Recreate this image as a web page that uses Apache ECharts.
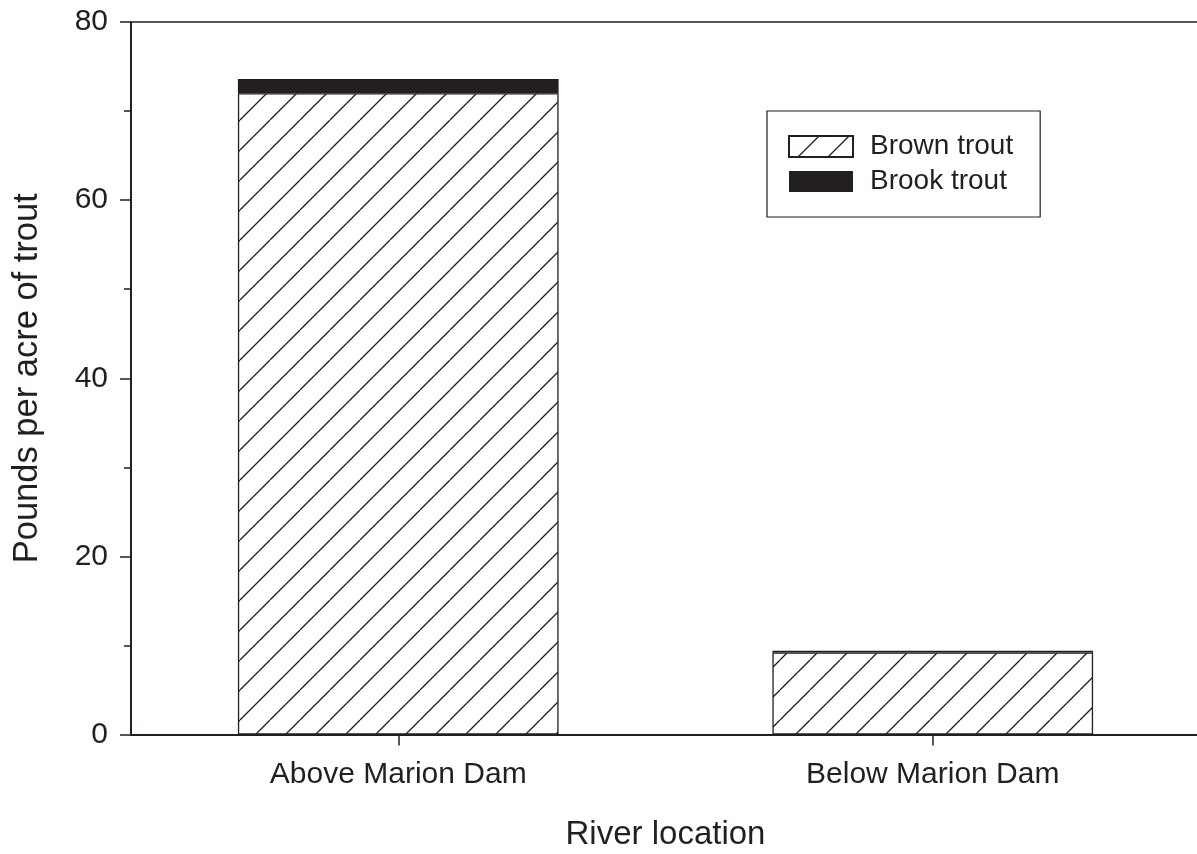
<!DOCTYPE html>
<html>
<head>
<meta charset="utf-8">
<style>
  html, body { margin: 0; padding: 0; background: #fff; }
  #chart { width: 1197px; height: 854px; }
</style>
<script src="https://cdn.jsdelivr.net/npm/echarts@6/dist/echarts.min.js"></script>
</head>
<body>
<div id="chart"></div>
<script>
// Trout biomass by river location (pounds per acre)
const locations = ['Above Marion Dam', 'Below Marion Dam'];
const brownTrout = [72.0, 9.2];
const brookTrout = [1.6, 0.2];
const yTicks = [0, 20, 40, 60, 80];

const INK = '#231f20';
const FONT = '"Liberation Sans", Arial, Helvetica, sans-serif';

// Diagonal "/" hatch fill used for the brown trout bars
function makeHatch() {
  const s = 30;
  const c = document.createElement('canvas');
  c.width = s; c.height = s;
  const g = c.getContext('2d');
  g.fillStyle = '#fff';
  g.fillRect(0, 0, s, s);
  g.strokeStyle = INK;
  g.lineWidth = 1.3;
  for (const k of [-s, 0, s]) {
    g.beginPath();
    g.moveTo(k, s);
    g.lineTo(k + s, 0);
    g.stroke();
  }
  return c;
}
const hatch = { image: makeHatch(), repeat: 'repeat' };

const chart = echarts.init(document.getElementById('chart'), null, { renderer: 'canvas' });

chart.setOption({
  animation: false,
  backgroundColor: '#fff',
  textStyle: { fontFamily: FONT, color: INK },
  grid: {
    left: 131, right: -3, top: 22, bottom: 119.5,
    containLabel: false, outerBoundsMode: 'none'
  },
  legend: {
    orient: 'vertical',
    left: 767, top: 111,
    padding: [21.5, 27, 21.5, 21],
    itemWidth: 64, itemHeight: 21, itemGap: 7,
    borderColor: INK, borderWidth: 1.2,
    icon: 'rect',
    textStyle: { fontFamily: FONT, fontSize: 28, color: INK, padding: [0, 0, 0, 12] },
    data: ['Brown trout', 'Brook trout']
  },
  xAxis: [
    {
      type: 'category',
      data: locations,
      name: 'River location',
      nameLocation: 'middle',
      nameGap: 84,
      nameTextStyle: { fontFamily: FONT, fontSize: 33, color: INK },
      axisLine: { show: true, lineStyle: { color: INK, width: 2 } },
      axisTick: { show: true, alignWithLabel: true, length: 11, lineStyle: { color: INK, width: 1.5 } },
      axisLabel: { fontFamily: FONT, fontSize: 30, color: INK, margin: 25 },
      splitLine: { show: false }
    },
    {
      type: 'category',
      data: locations,
      position: 'top',
      axisLine: { show: true, lineStyle: { color: INK, width: 1.5 } },
      axisTick: { show: false },
      axisLabel: { show: false },
      splitLine: { show: false }
    }
  ],
  yAxis: {
    type: 'value',
    min: yTicks[0],
    max: yTicks[yTicks.length - 1],
    interval: 20,
    name: 'Pounds per acre of trout',
    nameLocation: 'middle',
    nameGap: 86,
    nameTextStyle: { fontFamily: FONT, fontSize: 34.5, color: INK },
    axisLine: { show: true, lineStyle: { color: INK, width: 2 } },
    axisTick: { show: true, length: 11, lineStyle: { color: INK, width: 1.5 } },
    minorTick: { show: true, splitNumber: 2, length: 7, lineStyle: { color: INK, width: 1.5 } },
    axisLabel: { fontFamily: FONT, fontSize: 30, color: INK, margin: 23 },
    splitLine: { show: false }
  },
  series: [
    {
      name: 'Brown trout',
      type: 'bar',
      stack: 'trout',
      barWidth: '60%',
      data: brownTrout,
      itemStyle: { color: hatch, borderColor: INK, borderWidth: 1.3 }
    },
    {
      name: 'Brook trout',
      type: 'bar',
      stack: 'trout',
      barWidth: '60%',
      data: brookTrout,
      itemStyle: { color: INK, borderColor: INK, borderWidth: 0 }
    }
  ]
});
</script>
</body>
</html>
